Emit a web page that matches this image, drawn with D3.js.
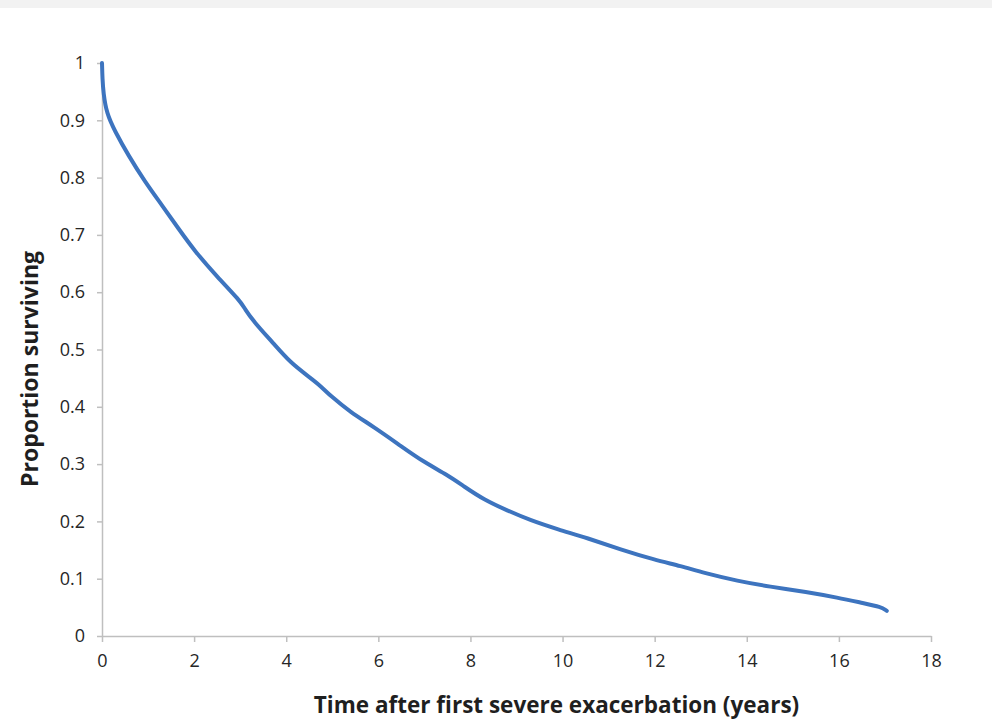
<!DOCTYPE html>
<html>
<head>
<meta charset="utf-8">
<script src="https://cdn.jsdelivr.net/npm/d3@7"></script>
<style>
  body { margin: 0; background: #fff; }
  .band { position: absolute; top: 0; left: 0; width: 992px; height: 8px; background: #f2f2f2; }
  .axis path, .axis line { stroke: #bfbfbf; stroke-width: 1.5px; }
  .axis text { font-family: "Open Sans", sans-serif; font-size: 18px; fill: #262626; }
  .title { font-family: "Open Sans", sans-serif; font-weight: bold; fill: #1f1f1f; }
</style>
</head>
<body>
<div class="band"></div>
<div id="chart"></div>
<script>
// Survival curve
const years = [0, 0.01, 0.03, 0.1, 0.28, 0.57, 0.93, 1.3, 1.66, 2.02, 2.5, 3.0, 3.1, 3.29, 3.72,
  4.09, 4.5, 4.74, 4.96, 5.39, 5.9, 6.5, 7.0, 7.5, 7.86, 8.29, 8.8, 9.3, 9.9, 10.54, 11.26,
  12.0, 12.57, 13.07, 13.8, 14.5, 15.3, 15.97, 16.55, 16.91, 17.04];
const surviving = [1.0, 0.972, 0.948, 0.912, 0.881, 0.839, 0.793, 0.752, 0.711, 0.671, 0.627, 0.585, 0.571, 0.549, 0.511,
  0.477, 0.452, 0.437, 0.419, 0.391, 0.365, 0.331, 0.303, 0.281, 0.261, 0.238, 0.219, 0.202, 0.186, 0.171, 0.151,
  0.133, 0.122, 0.11, 0.096, 0.086, 0.077, 0.067, 0.057, 0.051, 0.044];
const xTicks = [0, 2, 4, 6, 8, 10, 12, 14, 16, 18];
const yTicks = [0, 0.1, 0.2, 0.3, 0.4, 0.5, 0.6, 0.7, 0.8, 0.9, 1];

const data = years.map((t, i) => ({ t: t, p: surviving[i] }));

const margin = { top: 63, right: 61, bottom: 85, left: 102 },
  width = 992 - margin.left - margin.right,
  height = 721 - margin.top - margin.bottom;

const x = d3.scaleLinear().domain([0, 18]).range([0, width]);
const y = d3.scaleLinear().domain([0, 1]).range([height, 0]);

const svg = d3.select("#chart").append("svg")
  .attr("width", 992)
  .attr("height", 721)
  .style("position", "absolute")
  .style("top", 0)
  .style("left", 0)
  .append("g")
  .attr("transform", "translate(" + margin.left + "," + margin.top + ")");

// Axes
svg.append("g")
  .attr("class", "axis")
  .attr("transform", "translate(0," + height + ")")
  .call(d3.axisBottom(x).tickValues(xTicks).tickSize(6).tickSizeOuter(0).tickPadding(13))
  .call(g => g.selectAll("text").attr("dy", "0.68em"));

svg.append("g")
  .attr("class", "axis")
  .call(d3.axisLeft(y).tickValues(yTicks).tickSize(5).tickSizeOuter(0).tickPadding(12)
    .tickFormat(d => d3.format("~g")(d)));

// Line
const line = d3.line()
  .x(d => x(d.t))
  .y(d => y(d.p))
  .curve(d3.curveBasis);

svg.append("path")
  .datum(data)
  .attr("fill", "none")
  .attr("stroke", "#3d74bf")
  .attr("stroke-width", 4)
  .attr("stroke-linecap", "round")
  .attr("d", line);

// X-Axis label
svg.append("text")
  .attr("class", "title")
  .attr("x", (313 + 800) / 2 - margin.left)
  .attr("y", height + 77)
  .attr("text-anchor", "middle")
  .style("font-size", "22.5px")
  .text("Time after first severe exacerbation (years)");

// Y-Axis label
svg.append("text")
  .attr("class", "title")
  .attr("transform", "rotate(-90)")
  .attr("x", -(369 - margin.top))
  .attr("y", 38 - margin.left)
  .attr("text-anchor", "middle")
  .style("font-size", "23px")
  .text("Proportion surviving");
</script>
</body>
</html>
